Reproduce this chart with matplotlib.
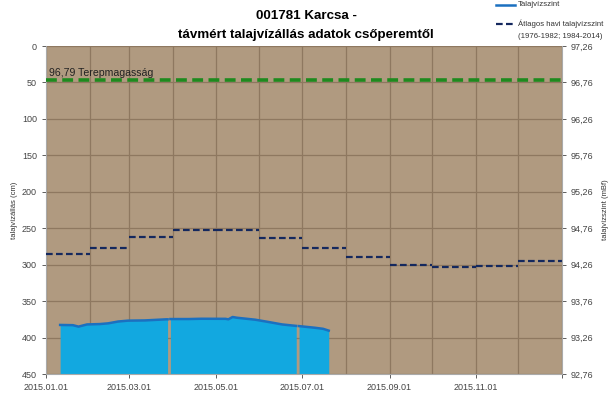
import matplotlib
matplotlib.use("Agg")
import matplotlib.pyplot as plt
import matplotlib.dates as mdates
import matplotlib.ticker as mticker
import numpy as np
from datetime import datetime

plt.rcParams['font.family'] = ['Liberation Sans', 'DejaVu Sans']

# water level below casing top (cm), NaN marks data gaps
water_dates = ['2015-01-11', '2015-01-20', '2015-01-24', '2015-01-27', '2015-01-30',
               '2015-02-08', '2015-02-14', '2015-02-21', '2015-02-28', '2015-03-12',
               '2015-03-27', '2015-03-28', '2015-03-29', '2015-03-30', '2015-04-12', '2015-04-21',
               '2015-05-08', '2015-05-10', '2015-05-13', '2015-05-16', '2015-05-29',
               '2015-06-07', '2015-06-17', '2015-06-27', '2015-06-28', '2015-06-29',
               '2015-07-10', '2015-07-16', '2015-07-20']
water_cm = [382.7, 383.0, 385.0, 383.5, 382.0,
            381.5, 380.5, 378.0, 376.8, 376.5,
            375.0, 375.0, np.nan, 374.6, 374.6, 374.2,
            374.3, 375.0, 371.8, 372.8, 375.5,
            378.5, 382.0, 384.0, np.nan, 384.3,
            386.5, 388.0, 390.5]

# long-term monthly mean (1976-1982; 1984-2014), cm
month_starts = ['2015-01-01', '2015-02-01', '2015-03-01', '2015-04-01', '2015-05-01', '2015-06-01',
                '2015-07-01', '2015-08-01', '2015-09-01', '2015-10-01', '2015-11-01', '2015-12-01']
monthly_avg_cm = [286, 277, 262, 252, 253, 263, 277, 290, 300, 303, 301.5, 295.5]

terrain_cm = 47
terrain_label = '96,79 Terepmagasság'
ref_level = 97.26  # mBf at 0 cm

wd = [datetime.strptime(d, '%Y-%m-%d') for d in water_dates]
ms = [datetime.strptime(d, '%Y-%m-%d') for d in month_starts]
me = ms[1:] + [datetime(2016, 1, 1)]

fig = plt.figure(figsize=(6.09, 3.98), dpi=100)
ax = fig.add_axes([46/609, 1-374/398, (562-46)/609, (374-46)/398])
ax.set_facecolor('#B09A80')

# split water series into continuous segments
segments = []
cur_d, cur_v = [], []
for d, v in zip(wd, water_cm):
    if np.isnan(v):
        segments.append((cur_d, cur_v))
        cur_d, cur_v = [], []
    else:
        cur_d.append(d)
        cur_v.append(v)
segments.append((cur_d, cur_v))

for sd, sv in segments:
    ax.fill_between(sd, sv, 450, color='#12A8E0', lw=0, zorder=2)
    ax.plot(sd, sv, color='#1B70C0', lw=1.8, zorder=3)

for s, e, v in zip(ms, me, monthly_avg_cm):
    ax.plot([s, e], [v, v], color='#14285E', lw=1.6, ls=(0, (3, 1.5)), zorder=4)

ax.axhline(terrain_cm, color='#1E8A1E', lw=2.6, ls=(0, (3, 1.5)), zorder=4)
ax.text(datetime(2015, 1, 3), terrain_cm - 3, terrain_label, fontsize=7.6, color='#222222', va='bottom')

ax.set_xlim(datetime(2015, 1, 1), datetime(2016, 1, 1))
ax.set_ylim(450, 0)
ax.set_yticks(np.arange(0, 451, 50))
ax.xaxis.set_major_locator(mdates.MonthLocator(bymonth=[1, 3, 5, 7, 9, 11]))
ax.xaxis.set_major_formatter(mticker.FuncFormatter(
    lambda x, pos: '' if mdates.num2date(x).year > 2015 else mdates.num2date(x).strftime('%Y.%m.%d')))
ax.xaxis.set_minor_locator(mdates.MonthLocator())
ax.grid(True, which='both', color='#8E7860', lw=0.9, zorder=1)
ax.set_axisbelow(True)
ax.tick_params(labelsize=6.5, colors='#444444', length=3, width=0.6)
ax.tick_params(which='minor', length=0)
for side in ['top', 'right']:
    ax.spines[side].set_visible(False)
for side in ['left', 'bottom']:
    ax.spines[side].set_color('#AAAAAA')
ax.set_ylabel('talajvízállás (cm)', fontsize=5.5, color='#333333', labelpad=3)

ax2 = ax.twinx()
ax2.set_ylim(ref_level - 4.5, ref_level)
ticks = ref_level - np.arange(0, 451, 50) / 100
ax2.set_yticks(ticks)
ax2.set_yticklabels([f'{t:.2f}'.replace('.', ',') for t in ticks])
ax2.tick_params(labelsize=6.5, colors='#444444', length=3, width=0.6)
for side in ['top', 'left', 'bottom']:
    ax2.spines[side].set_visible(False)
ax2.spines['right'].set_color('#AAAAAA')
ax2.set_ylabel('talajvízszint (mBf)', fontsize=5.5, color='#333333', labelpad=6)

fig.text(306/609, 1-16/398, '001781 Karcsa -', ha='center', va='center', fontsize=9.6, fontweight='bold')
fig.text(306/609, 1-35/398, 'távmért talajvízállás adatok csőperemtől', ha='center', va='center',
         fontsize=9.6, fontweight='bold')

# legend
fig.lines.append(plt.Line2D([496/609, 515/609], [1-5/398, 1-5/398], color='#1B70C0', lw=1.8,
                            transform=fig.transFigure))
fig.text(518/609, 1-5/398, 'Talajvízszint', fontsize=5.6, va='center', color='#333333')
fig.lines.append(plt.Line2D([496/609, 515/609], [1-24/398, 1-24/398], color='#14285E', lw=1.6,
                            ls=(0, (3, 1.5)), transform=fig.transFigure))
fig.text(518/609, 1-24/398, 'Átlagos havi talajvízszint', fontsize=5.6, va='center', color='#333333')
fig.text(518/609, 1-36/398, '(1976-1982; 1984-2014)', fontsize=5.6, va='center', color='#333333')

fig.savefig('out.png', dpi=100)
